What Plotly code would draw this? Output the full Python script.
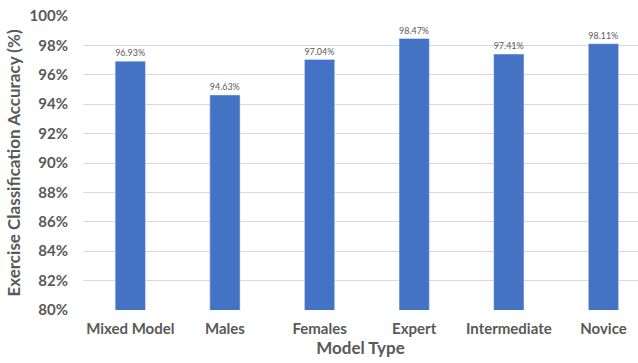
import plotly.graph_objects as go

categories = ["Mixed Model", "Males", "Females", "Expert", "Intermediate", "Novice"]
accuracy = [0.9693, 0.9463, 0.9704, 0.9847, 0.9741, 0.9811]
y_ticks = [0.80, 0.82, 0.84, 0.86, 0.88, 0.90, 0.92, 0.94, 0.96, 0.98, 1.00]

FONT = "Lato, 'Open Sans', sans-serif"
GRAY = "#595959"

fig = go.Figure(go.Bar(
    x=categories, y=accuracy,
    marker_color="#4472C4",
    texttemplate="%{y:.2%}", textposition="outside",
    textfont=dict(size=9.5, color=GRAY, family=FONT),
    cliponaxis=False,
))

fig.update_layout(
    width=638, height=363,
    margin=dict(l=83, r=0, t=16, b=53),
    plot_bgcolor="white", paper_bgcolor="white",
    bargap=0.68,
    showlegend=False,
    font=dict(family=FONT, color=GRAY),
)
fig.update_xaxes(
    range=[-0.5, 5.365],
    tickfont=dict(size=15, color=GRAY, family=FONT, weight="bold"),
    ticklabelstandoff=8,
    title=dict(text="<b>Model Type</b>", font=dict(size=17, color=GRAY, family=FONT), standoff=6),
    showline=False, showgrid=False, ticks="",
)
fig.update_yaxes(
    range=[0.80, 1.00], tickvals=y_ticks, tickformat=".0%",
    tickfont=dict(size=15, color=GRAY, family=FONT, weight="bold"),
    ticklabelstandoff=14,
    title=dict(text="<b>Exercise Classification Accuracy (%)</b>", font=dict(size=17, color=GRAY, family=FONT), standoff=4),
    showgrid=True, gridcolor="#D9D9D9", gridwidth=1,
    zeroline=False, showline=False, ticks="",
)

fig.write_html("out.html")
